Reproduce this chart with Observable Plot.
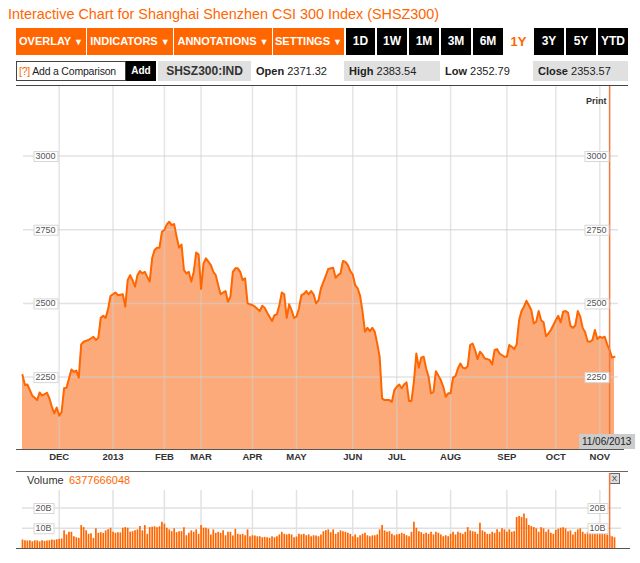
<!DOCTYPE html>
<html><head><meta charset="utf-8">
<script src="https://cdn.jsdelivr.net/npm/d3@7"></script>
<script src="https://cdn.jsdelivr.net/npm/@observablehq/plot@0.6"></script>
<style>
body{margin:0;background:#fff;font-family:"Liberation Sans",Arial,sans-serif;}
#root{position:relative;width:640px;height:563px;overflow:hidden;}
.title{position:absolute;left:8px;top:5px;font-size:14.4px;line-height:18px;color:#ff6600;white-space:nowrap;}
.btn{position:absolute;top:28px;height:27px;line-height:27px;text-align:center;font-weight:bold;font-size:11px;color:#fff;white-space:nowrap;}
.ob{background:#ff6600;}
.bb{background:#000;font-size:12px;}
.arr{font-size:9px;}
.r2{position:absolute;top:61px;height:20px;line-height:20px;font-size:11px;color:#222;white-space:nowrap;}
.gray{background:#e0e0e0;}
.hl{position:absolute;height:0;}
#main{position:absolute;left:0;top:86px;}
#vol{position:absolute;left:0;top:470px;}
</style></head>
<body><div id="root">
<div class="title">Interactive Chart for Shanghai Shenzhen CSI 300 Index (SHSZ300)</div>
<div class="btn ob" style="left:16px;width:70px">OVERLAY <span class="arr">▼</span></div>
<div class="btn ob" style="left:87px;width:86px">INDICATORS <span class="arr">▼</span></div>
<div class="btn ob" style="left:174px;width:98px">ANNOTATIONS <span class="arr">▼</span></div>
<div class="btn ob" style="left:273px;width:71px">SETTINGS <span class="arr">▼</span></div>
<div class="btn bb" style="left:346px;width:29px">1D</div>
<div class="btn bb" style="left:377px;width:30px">1W</div>
<div class="btn bb" style="left:409px;width:30px">1M</div>
<div class="btn bb" style="left:441px;width:30px">3M</div>
<div class="btn bb" style="left:473px;width:30px">6M</div>
<div class="btn" style="left:504px;width:29px;color:#ff6600;font-size:13px">1Y</div>
<div class="btn bb" style="left:534px;width:30px">3Y</div>
<div class="btn bb" style="left:566px;width:30px">5Y</div>
<div class="btn bb" style="left:598px;width:30px">YTD</div>

<div class="r2" style="left:16px;width:106px;height:18px;line-height:18px;border:1px solid #444;font-size:10.5px;letter-spacing:-0.2px;padding-left:2px"><span style="color:#ff6600">[?]</span> Add a Comparison</div>
<div class="r2" style="left:126px;width:30px;background:#000;color:#fff;font-weight:bold;font-size:10px;text-align:center">Add</div>
<div class="r2 gray" style="left:158px;width:93px;text-align:center;font-weight:bold;font-size:12px;color:#333">SHSZ300:IND</div>
<div class="r2" style="left:256px;"><b>Open</b> 2371.32</div>
<div class="r2 gray" style="left:344px;width:91px;padding-left:5px"><b>High</b> 2383.54</div>
<div class="r2" style="left:445px;"><b>Low</b> 2352.79</div>
<div class="r2 gray" style="left:533px;width:90px;padding-left:5px"><b>Close</b> 2353.57</div>

<div class="hl" style="left:16px;top:85px;width:612px;border-top:1px solid #444"></div>
<div id="main"></div>
<div class="hl" style="left:16px;top:449px;width:608px;border-top:1.5px solid #555"></div>

<div class="hl" style="left:16px;top:471px;width:612px;border-top:1px solid #666"></div>
<div style="position:absolute;left:27px;top:474px;font-size:11px;color:#333">Volume</div>
<div style="position:absolute;left:69px;top:474px;font-size:11px;color:#ff6600">6377666048</div>
<div style="position:absolute;left:609px;top:473px;width:9px;height:9px;border:1px solid #666;background:#ddd;font-size:8px;line-height:9px;text-align:center;color:#333">X</div>
<div id="vol"></div>
<div class="hl" style="left:16px;top:548px;width:614px;border-top:1.5px solid #555"></div>
</div>
<script>
// ---- data ----
const days = [0,1,2,4,5,6,7,8,10,11,12,13,14,15,16,17,18,20,21,22,23,24,25,27,29,30,31,32,33,34,35,36,37,38,39,41,42,43,44,45,46,47,48,49,50,51,52,53,54,55,56,57,58,59,60,61,62,63,64,65,66,67,68,69,70,71,72,73,74,75,77,78,79,80,81,
82,83,84,85,86,87,88,89,90,91,92,94,95,97,98,99,100,102,103,104,105,106,107,108,109,110,111,112,113,114,115,116,117,118,119,120,121,122,124,125,127,128,129,130,131,132,133,134,135,136,137,138,139,140,141,142,143,144,145,146,147,148,150,151,152,153,154,155,156,157,158,159,160,161,162,
163,164,165,166,167,168,169,170,171,172,173,174,175,176,177,178,179,180,181,182,183,184,185,186,187,188,189,190,191,192,193,194,195,197,198,199,200,201,202,203,204,205,206,207,208,209,210,211,212,213,214,215,216,218,219,220,221,222,223,224,225,226,227,228,229,230,231,232,233,234,235,236,237,238,239,240,241,242];
const prices = [2257,2223,2225,2187,2180,2172,2198,2187,2197,2178,2149,2127,2147,2119,2132,2212,2214,2276,2268,2272,2248,2361,2370,2376,2387,2376,2383,2451,2458,2451,2481,2526,2531,2537,2528,2531,2489,2579,2596,2579,2557,2596,2610,2602,2607,2590,2574,2653,2681,2689,2689,2743,2749,2768,2777,2766,2769,2726,2689,2700,2613,2602,2607,2574,2607,2673,2666,2549,2636,2653,2630,2607,2596,2562,2531,
2537,2542,2506,2523,2607,2619,2619,2607,2579,2585,2500,2494,2489,2474,2492,2485,2469,2440,2460,2463,2494,2537,2531,2451,2497,2477,2451,2455,2483,2528,2532,2542,2531,2542,2531,2500,2511,2551,2594,2617,2621,2587,2596,2602,2644,2641,2630,2610,2598,2562,2551,2526,2472,2404,2417,2406,2417,2404,2364,2319,2178,2172,2172,2166,2206,2217,2225,2212,2225,2232,2169,2169,2234,2330,2282,
2316,2319,2279,2251,2195,2200,2270,2255,2240,2217,2183,2195,2195,2248,2253,2279,2296,2282,2279,2287,2359,2364,2342,2311,2336,2327,2313,2311,2308,2293,2342,2345,2330,2319,2319,2359,2353,2345,2361,2443,2474,2489,2509,2494,2477,2432,2438,2474,2443,2436,2389,2398,2410,2443,2458,2436,2472,2474,2469,2424,2417,2426,2474,2455,2417,2402,2372,2370,2376,2410,2379,2387,2383,2387,2361,2342,2316,2319];
// volume in billions, one per trading day (day 0..242)
const volumes = [4.2,3.8,3.7,3.8,3.3,3.8,3.7,3.3,3.8,3.5,3.7,3.8,4.2,4.0,4.3,4.5,4.7,
8.7,6.7,8.0,8.0,5.8,5.3,5.0,11.3,10.3,8.7,7.0,7.3,5.0,9.7,7.5,7.8,7.5,8.7,9.3,10.0,8.0,7.5,7.8,7.7,10.0,10.3,
10.0,8.0,8.3,8.7,9.2,10.8,8.7,11.3,7.0,10.3,10.5,10.7,10.3,10.7,13.0,12.0,10.0,9.2,8.3,9.7,
7.8,8.3,8.3,10.2,6.3,7.5,8.7,8.0,9.2,7.0,11.3,10.0,10.0,9.5,6.7,9.2,7.5,8.0,7.5,8.7,
6.3,8.0,8.0,6.2,9.5,7.0,6.7,7.0,6.3,9.2,5.8,6.3,6.2,5.8,5.8,5.3,5.5,5.3,
5.0,5.8,5.3,5.8,6.7,8.0,7.0,6.7,7.0,6.7,5.3,5.7,7.0,6.7,7.0,6.3,6.7,5.8,6.3,6.2,5.8,6.7,
8.3,8.8,9.2,7.8,9.2,7.0,7.8,8.7,8.3,8.0,7.5,7.0,5.8,6.7,5.3,6.3,7.0,7.5,
6.3,5.8,6.2,6.3,6.7,9.2,11.3,8.7,8.0,8.3,7.0,6.3,6.7,7.0,7.5,7.0,6.3,5.8,8.0,13.0,
10.0,8.3,7.8,7.0,7.5,7.0,8.0,6.7,8.0,7.5,6.7,5.8,6.3,5.8,7.0,8.0,6.7,8.0,
7.5,7.0,8.0,10.3,8.7,8.3,8.0,7.0,12.5,8.7,8.0,7.0,7.0,8.0,7.5,9.2,8.0,9.7,9.2,
8.0,9.2,8.0,8.3,15.3,15.8,15.3,17.0,14.7,11.3,10.8,10.3,9.7,8.0,10.3,9.7,8.0,9.2,7.5,7.0,
9.0,9.5,10.0,10.3,9.7,8.3,8.7,6.7,8.0,9.2,9.7,8.0,7.0,8.0,8.0,7.5,8.0,7.5,7.0,
7.5,7.0,6.7,6.3,5.8,5.3];
const monthTicks = [15,37,58,73,94,112,135,153,175,198,218,236];
const monthLabels = ["DEC","2013","FEB","MAR","APR","MAY","JUN","JUL","AUG","SEP","OCT","NOV"];
const priceTicks = [2250,2500,2750,3000];
const volTicks = [10,20];
const volTickLabels = ["10B","20B"];
const cursorDay = 240;
const cursorLabel = "11/06/2013";
const lastDay = 242;
const priceDomain = [2001,3236];
const volDomain = [0,38.5];

// ---- chart ----
const mainData = days.map((d,i)=>({day:d, price:prices[i]}));
const FONT = "'Liberation Sans', Arial, sans-serif";

const main = Plot.plot({
  width:640, height:380, marginLeft:22, marginRight:26, marginTop:0, marginBottom:16,
  style:{fontFamily:FONT, background:"transparent", overflow:"visible"},
  x:{domain:[0,lastDay], label:null}, y:{domain:priceDomain, axis:null},
  marks:[
    Plot.areaY(mainData,{x:"day", y1:priceDomain[0], y2:"price", fill:"#fcaa79"}),
    Plot.ruleX(monthTicks,{stroke:"#cfcfcf", strokeOpacity:0.55, strokeWidth:1.5}),
    Plot.ruleY(priceTicks,{stroke:"#cfcfcf", strokeOpacity:0.6, strokeWidth:1.5, insetLeft:1, insetRight:-4}),
    Plot.lineY(mainData,{x:"day", y:"price", stroke:"#ff6600", strokeWidth:2}),
    Plot.ruleX([cursorDay],{stroke:"#f0773e", strokeWidth:1.5, insetBottom:16}),
    Plot.axisX(monthTicks,{label:null, tickSize:0, tickPadding:3, tickFormat:d=>monthLabels[monthTicks.indexOf(d)], fontWeight:"bold", fontSize:9.5, fill:"#333"}),
    Plot.text(priceTicks,{y:d=>d, frameAnchor:"left", dx:13, textAnchor:"start", text:d=>String(d), fontSize:9, fill:"#555", className:"boxw", ariaLabel:"boxw"}),
    Plot.text(priceTicks,{y:d=>d, frameAnchor:"right", dx:-8, textAnchor:"end", text:d=>String(d), fontSize:9, fill:"#555", className:"boxw", ariaLabel:"boxw"}),
    Plot.text(["Print"],{frameAnchor:"top-right", dx:-8, dy:11, text:d=>d, fontWeight:"bold", fontSize:9, fill:"#333"}),
    Plot.text([cursorLabel],{x:()=>cursorDay, frameAnchor:"bottom", lineAnchor:"middle", dy:-9, dx:-3, text:d=>d, fontSize:10, fill:"#222", className:"boxg", ariaLabel:"boxg"})
  ]
});
document.getElementById("main").appendChild(main);

const vol = Plot.plot({
  width:640, height:80, marginLeft:22, marginRight:26, marginTop:0, marginBottom:2,
  style:{fontFamily:FONT, background:"transparent", overflow:"visible"},
  x:{domain:[0,lastDay], axis:null}, y:{domain:volDomain, axis:null},
  marks:[
    Plot.ruleX(monthTicks,{stroke:"#e2e2e2", strokeWidth:1.5, insetTop:20}),
    Plot.ruleY(volTicks,{stroke:"#e0e0e0", strokeWidth:1.5, insetRight:-7}),
    Plot.ruleX(volumes,{x:(d,i)=>i, y1:0, y2:d=>d, stroke:"#ff6600", strokeWidth:1.7}),
    Plot.ruleX([cursorDay],{stroke:"#f0773e", strokeWidth:1.5, insetTop:3}),
    Plot.text(volTicks,{y:d=>d, frameAnchor:"left", dx:13, textAnchor:"start", text:(d,i)=>volTickLabels[i], fontSize:9, fill:"#555", className:"boxw", ariaLabel:"boxw"}),
    Plot.text(volTicks,{y:d=>d, frameAnchor:"right", dx:-9, textAnchor:"end", text:(d,i)=>volTickLabels[i], fontSize:9, fill:"#555", className:"boxw", ariaLabel:"boxw"})
  ]
});
document.getElementById("vol").appendChild(vol);

function boxify(svg, cls, fill, stroke, px, py){
  const texts = svg.querySelectorAll(`g.${cls} text, g[aria-label="${cls}"] text`);
  const seen = new Set();
  texts.forEach(t=>{
    if(seen.has(t)) return; seen.add(t);
    const b = t.getBBox();
    const r = document.createElementNS("http://www.w3.org/2000/svg","rect");
    r.setAttribute("x", Math.round(b.x-px)+0.5);
    r.setAttribute("y", Math.round(b.y-py)+0.5);
    r.setAttribute("width", Math.round(b.width+2*px));
    r.setAttribute("height", Math.round(b.height+2*py));
    const tr = t.getAttribute("transform");
    if(tr) r.setAttribute("transform", tr);
    r.setAttribute("fill", fill);
    r.setAttribute("stroke", stroke);
    t.parentNode.insertBefore(r, t);
  });
}
boxify(main, "boxw", "#fff", "#d6d6d6", 2, 0);
boxify(vol, "boxw", "#fff", "#d6d6d6", 2, 0);
boxify(main, "boxg", "#cccccc", "none", 3, 2);
</script>
</body></html>
